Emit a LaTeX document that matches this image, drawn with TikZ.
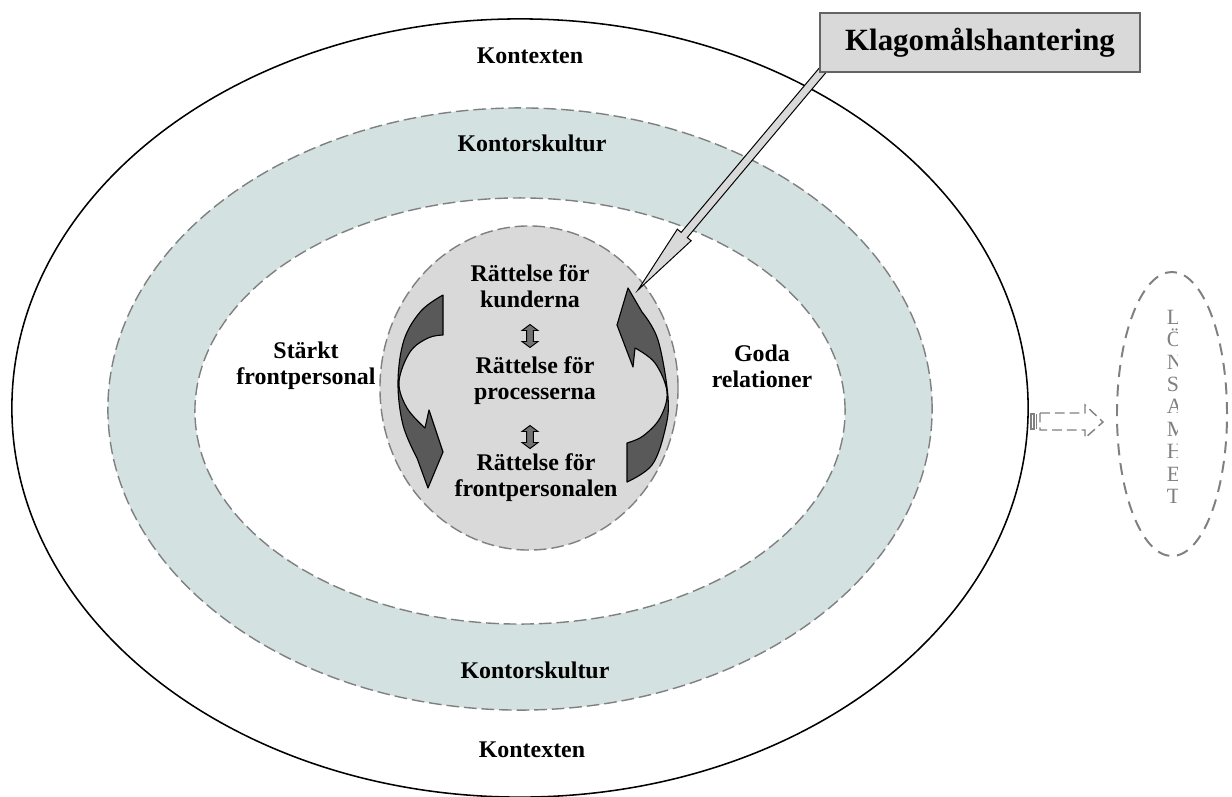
\documentclass[tikz,border=0pt]{standalone}
\usepackage{fontspec}
\setmainfont{Liberation Serif}
\usetikzlibrary{shapes.geometric,calc}
\definecolor{ringteal}{RGB}{211,226,225}
\definecolor{coregray}{RGB}{217,217,217}
\definecolor{dashgray}{RGB}{128,128,128}
\definecolor{arrowdark}{RGB}{89,89,89}
\definecolor{boxborder}{RGB}{100,100,100}
\begin{document}
\begin{tikzpicture}[x=0.025cm,y=-0.025cm,
  oval/.style={ellipse,inner sep=0pt,outer sep=0pt},
  dsh/.style={draw=dashgray,line width=1pt,dash pattern=on 9pt off 3.5pt},
  lbl/.style={font=\fontsize{17}{18.5}\selectfont\bfseries,align=center,inner sep=0pt},
  curvarrow/.style={fill=arrowdark,draw=black,line width=0.8pt,line join=round},
  dblarrow/.style={fill=arrowdark!85!white,draw=black,line width=0.7pt},
  callout/.style={fill=coregray,draw=black,line width=0.7pt,line join=miter},
  calloutbox/.style={draw=boxborder,line width=1.8pt,fill=coregray,minimum width=8cm,minimum height=1.48cm,inner sep=0pt,
      font=\fontsize{22}{24}\selectfont\bfseries}]
\useasboundingbox (0,0) rectangle (1232,797);

% rings
\node[oval,draw=black,line width=1.1pt,fill=white,minimum width=25.4cm,minimum height=19.45cm] (ctx) at (520,408) {};
\node[oval,dsh,fill=ringteal,minimum width=20.6cm,minimum height=15.05cm] (kult) at (520,409) {};
\node[oval,dsh,fill=white,minimum width=16.25cm,minimum height=10.65cm] (inner) at (520,411) {};
\node[oval,dsh,fill=coregray,minimum width=7.45cm,minimum height=8.1cm] (core) at (529,388) {};

% right ellipse
\node[oval,draw=dashgray,line width=1.4pt,dash pattern=on 8.5pt off 5.5pt,minimum width=2.75cm,minimum height=7.1cm] (lons) at (1172,414) {};
\begin{scope}
\clip (1150,295) rectangle (1177,525);
\node[anchor=north west,align=left,inner sep=0pt,text=dashgray,font=\fontsize{15.5}{15.9}\selectfont] (lonstext) at (1166.5,310) {L\\Ö\\N\\S\\A\\M\\H\\E\\T};
\end{scope}

% small dashed arrow
\draw[draw=dashgray,line width=1pt,dash pattern=on 7pt off 3.5pt,line join=miter]
  (1040,413) -- (1085,413) -- (1085,405) -- (1103,422) -- (1085,438) -- (1085,430) -- (1040,430) -- cycle;
\draw[draw=dashgray,line width=0.9pt] (1031,414) rectangle (1034,429);
\draw[draw=dashgray,line width=0.9pt] (1036.5,414) -- (1036.5,429);

% texts
\node[lbl] (kx1) at (530,56) {Kontexten};
\node[lbl] (ku1) at (532,143) {Kontorskultur};
\node[lbl] (ku2) at (535,670) {Kontorskultur};
\node[lbl] (kx2) at (532,750) {Kontexten};
\node[lbl] (stark) at (306,366) {Stärkt\\frontpersonal};
\node[lbl] (goda) at (762,366) {Goda\\relationer};
\node[lbl] (r1) at (530,286) {Rättelse för\\kunderna};
\node[lbl] (r2) at (535,381) {Rättelse för\\processerna};
\node[lbl] (r3) at (536,478) {Rättelse för\\frontpersonalen};

% double arrows
\foreach \cy in {336,437}{
  \draw[dblarrow] (530,\cy-11.5) -- (538,\cy-5.5) -- (533.3,\cy-5.5) -- (533.3,\cy+5.5) -- (538,\cy+5.5)
     -- (530,\cy+11.5) -- (522,\cy+5.5) -- (526.7,\cy+5.5) -- (526.7,\cy-5.5) -- (522,\cy-5.5) -- cycle;
}

% curved arrows
\draw[curvarrow] plot[smooth,tension=0.6] coordinates {(443,295) (421,311) (404,340) (398,382) (403,425) (417,458)}
  -- (428,488) -- (443,452) -- (429,410) -- (425,428)
  -- plot[smooth,tension=0.6] coordinates {(425,428) (407,408) (399,382) (410,352) (428,338) (443,335)} -- cycle;
\draw[curvarrow] plot[smooth,tension=0.6] coordinates {(627,482) (652,465) (665,430) (668,397) (658,340) (642,312)}
  -- (628,288) -- (617,325) -- (633,367) -- (635,348)
  -- plot[smooth,tension=0.6] coordinates {(635,348) (655,363) (667,392) (660,418) (643,436) (627,443)} -- cycle;

% callout
\node[calloutbox] (klag) at (980,42.5) {Klagomålshantering};
\coordinate (cs) at ($(klag.south west)+(8,-8)$);
\coordinate (ctip) at (638,290);
\coordinate (cb) at ($(ctip)!0.245!(cs)$);
\draw[callout] ($(cs)!2.85pt!90:(ctip)$) -- ($(cb)!2.85pt!-90:(cs)$) -- ($(cb)!6.4pt!-90:(cs)$) -- (ctip)
  -- ($(cb)!6.4pt!90:(cs)$) -- ($(cb)!2.85pt!90:(cs)$) -- ($(cs)!2.85pt!-90:(ctip)$) -- cycle;
\node[calloutbox] (klagtop) at (klag) {Klagomålshantering};
\end{tikzpicture}
\end{document}
